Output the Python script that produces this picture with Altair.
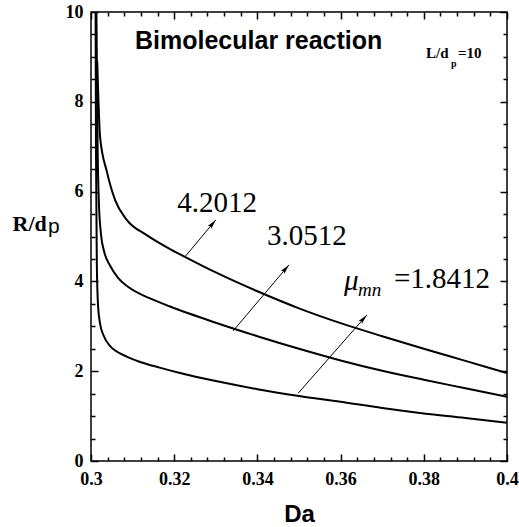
import math
import altair as alt
import pandas as pd

W, H = 416, 449

# ---- data ----
series_labels = ["1.8412", "3.0512", "4.2012"]

low_da = [0.3011, 0.3012, 0.3014, 0.3017, 0.3022, 0.303, 0.3046, 0.306, 0.3087, 0.312, 0.3165,
          0.3214, 0.33, 0.34, 0.35, 0.36, 0.37, 0.38, 0.39, 0.4]
low_r = [10.0, 6.9, 4.4, 3.45, 3.05, 2.8, 2.56, 2.45, 2.32, 2.2, 2.08,
         1.96, 1.78, 1.6, 1.45, 1.32, 1.18, 1.06, 0.96, 0.85]

mid_da = [0.3013, 0.3016, 0.3019, 0.3024, 0.3032, 0.3046, 0.3065, 0.3089, 0.3142, 0.319, 0.33,
          0.34, 0.35, 0.36, 0.37, 0.38, 0.39, 0.4]
mid_r = [10.0, 6.93, 5.75, 5.05, 4.65, 4.35, 4.08, 3.88, 3.62, 3.44, 3.08,
         2.78, 2.50, 2.24, 2.01, 1.81, 1.62, 1.43]

top_da = [0.3015, 0.3022, 0.3038, 0.3058, 0.3086, 0.3134, 0.319, 0.3221, 0.33, 0.34,
          0.35, 0.36, 0.37, 0.38, 0.39, 0.4]
top_r = [8.9, 7.2, 6.45, 5.81, 5.37, 5.03, 4.72, 4.57, 4.20, 3.78,
         3.40, 3.07, 2.78, 2.50, 2.23, 1.96]

x_major = [0.3, 0.32, 0.34, 0.36, 0.38, 0.4]
x_minor = [0.304, 0.308, 0.312, 0.316, 0.324, 0.328, 0.332, 0.336, 0.344, 0.348,
           0.352, 0.356, 0.364, 0.368, 0.372, 0.376, 0.384, 0.388, 0.392, 0.396]
y_major = [0, 2, 4, 6, 8, 10]
y_minor = [0.5, 1, 1.5, 2.5, 3, 3.5, 4.5, 5, 5.5, 6.5, 7, 7.5, 8.5, 9, 9.5]

# arrows: start on curve -> tip
arrow_x1 = [0.3226, 0.3342, 0.3498]
arrow_y1 = [4.55, 2.90, 1.51]
arrow_x2 = [0.3300, 0.3476, 0.3663]
arrow_y2 = [5.37, 4.37, 3.25]

# ---- tables ----
rows = []
for lab, xs_, ys_ in zip(series_labels, [low_da, mid_da, top_da], [low_r, mid_r, top_r]):
    for a, b in zip(xs_, ys_):
        rows.append({"Da": a, "R": b, "mu": lab})
curves = pd.DataFrame(rows)

angles = []
for a, b, c, d in zip(arrow_x1, arrow_y1, arrow_x2, arrow_y2):
    dx = (c - a) * W / 0.1
    dy = (d - b) * H / 10.0
    angles.append((math.degrees(math.atan2(dx, dy)) + 360) % 360)
arrows = pd.DataFrame({"Da": arrow_x1, "R": arrow_y1, "x2": arrow_x2, "y2": arrow_y2, "ang": angles})

xs = alt.Scale(domain=[0.3, 0.4], nice=False, zero=False)
ys = alt.Scale(domain=[0, 10], nice=False, zero=False)

ax_x = alt.Axis(
    values=x_major, format=".2~f", domain=False, ticks=False, grid=False, labelFlush=False,
    labelFont="Liberation Serif", labelFontSize=18, labelFontWeight="bold", labelColor="black",
    labelPadding=9, title="Da", titleFont="Liberation Sans", titleFontSize=24,
    titleFontWeight="bold", titleColor="black", titleBaseline="alphabetic", titleY=60)
ax_y = alt.Axis(
    values=y_major, format="d", domain=False, ticks=False, grid=False, labelFlush=False,
    labelFont="Liberation Serif", labelFontSize=18, labelFontWeight="bold", labelColor="black",
    labelPadding=8, title="R/d", titleFont="Liberation Serif", titleFontSize=22,
    titleFontWeight="bold", titleColor="black", titleAngle=0, titleAlign="left",
    titleBaseline="alphabetic", titleX=-79, titleY=218)

lines = alt.Chart(curves).mark_line(color="black", strokeWidth=2, interpolate="monotone", clip=True).encode(
    x=alt.X("Da:Q", scale=xs, axis=ax_x),
    y=alt.Y("R:Q", scale=ys, axis=ax_y),
    detail="mu:N",
)

# inward ticks: tick-only axes pulled inside the frame with a negative offset
def tick_axis(vals, orient, length):
    return alt.Axis(
        orient=orient, values=vals, offset=-length, tickSize=length, tickWidth=1.5,
        tickColor="black", tickOpacity=1, labels=False, domain=False, grid=False, title=None,
    )

def tick_layer(vals, orient, length):
    df = pd.DataFrame({"Da": [0.35], "R": [5.0]})
    if orient in ("bottom", "top"):
        enc = dict(x=alt.X("Da:Q", scale=xs, axis=tick_axis(vals, orient, length)),
                   y=alt.Y("R:Q", scale=ys, axis=None))
    else:
        enc = dict(x=alt.X("Da:Q", scale=xs, axis=None),
                   y=alt.Y("R:Q", scale=ys, axis=tick_axis(vals, orient, length)))
    return alt.Chart(df).mark_point(opacity=0, size=1).encode(**enc)

ticks = [
    tick_layer(x_major, "bottom", 7), tick_layer(x_minor, "bottom", 4),
    tick_layer(x_major, "top", 7), tick_layer(x_minor, "top", 4),
    tick_layer(y_major, "left", 7), tick_layer(y_minor, "left", 4),
    tick_layer(y_major, "right", 7), tick_layer(y_minor, "right", 4),
]

arrow_lines = alt.Chart(arrows).mark_rule(color="black", strokeWidth=1).encode(
    x=alt.X("Da:Q", scale=xs, axis=None), x2="x2:Q",
    y=alt.Y("R:Q", scale=ys, axis=None), y2="y2:Q",
)
arrow_heads = alt.Chart(arrows).mark_point(
    shape="M0,0 L0.45,2 L0,1.6 L-0.45,2 Z", filled=True, color="black", opacity=1, size=100
).encode(
    x=alt.X("x2:Q", scale=xs, axis=None),
    y=alt.Y("y2:Q", scale=ys, axis=None),
    angle=alt.Angle("ang:Q", scale=None),
)

def label(text, x, y, font, size, weight="normal", style="normal", align="left"):
    df = pd.DataFrame({"t": [text], "Da": [x], "R": [y]})
    return alt.Chart(df).mark_text(
        font=font, fontSize=size, fontWeight=weight, fontStyle=style, align=align,
        baseline="alphabetic", color="black"
    ).encode(
        x=alt.X("Da:Q", scale=xs, axis=None), y=alt.Y("R:Q", scale=ys, axis=None), text="t:N"
    )

texts = [
    label("Bimolecular reaction", 0.31058, 9.17, "Liberation Sans", 25, "bold"),
    label("L/d", 0.38053, 8.98, "Liberation Serif", 15, "bold"),
    label("p", 0.38654, 8.78, "Liberation Serif", 10, "bold"),
    label("=10", 0.38822, 8.98, "Liberation Serif", 15, "bold"),
    label("4.2012", 0.33029, 5.55, "Liberation Serif", 29, align="center"),
    label("3.0512", 0.35192, 4.81, "Liberation Serif", 29, align="center"),
    label("=1.8412", 0.39591, 3.85, "Liberation Serif", 29, align="right"),
    label("\u03bc", 0.36080, 3.81, "Liberation Serif", 29, style="italic"),
    label("mn", 0.36420, 3.68, "Liberation Serif", 19, style="italic"),
]

sub_p = alt.Chart(pd.DataFrame({"t": ["p"]})).mark_text(
    font="Liberation Sans", fontSize=21, align="left", baseline="alphabetic", color="black"
).encode(x=alt.value(-43), y=alt.value(221), text="t:N")

chart = alt.layer(lines, *ticks, arrow_lines, arrow_heads, *texts, sub_p).resolve_axis(
    x="independent", y="independent"
).properties(
    width=W, height=H,
    autosize=alt.AutoSizeParams(type="none"),
    padding={"left": 91, "top": 12, "right": 12, "bottom": 66},
    background="white",
).configure_view(stroke="black", strokeWidth=1.5)

chart.save("out.html", embed_options={"renderer": "svg", "actions": False})
